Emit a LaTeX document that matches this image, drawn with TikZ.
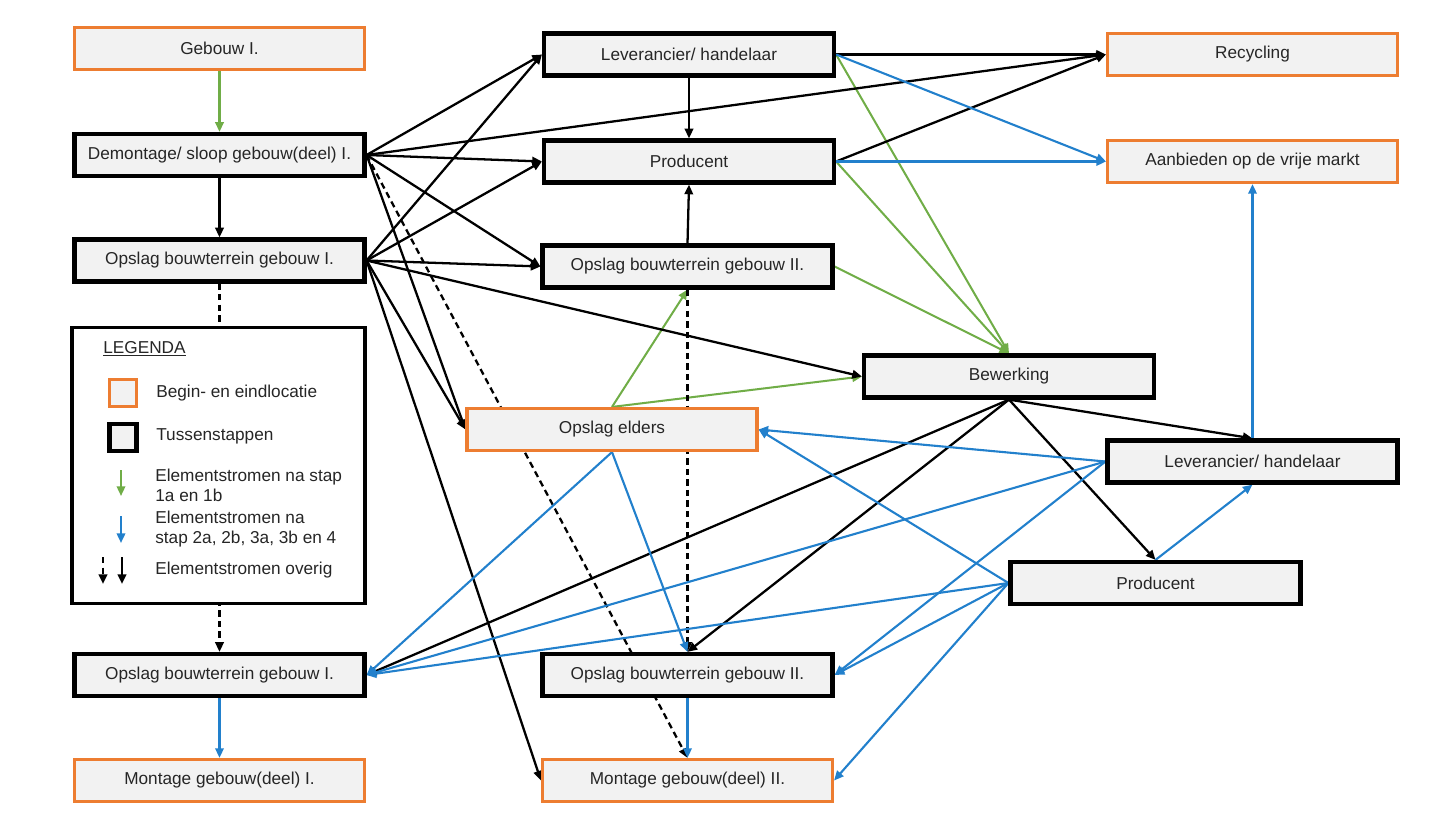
\documentclass[tikz,border=0pt]{standalone}
\usepackage{fontspec}
\setmainfont{Liberation Sans}
\usetikzlibrary{arrows.meta,backgrounds}
\definecolor{orng}{HTML}{ED7D31}
\definecolor{grn}{HTML}{70AD47}
\definecolor{blu}{HTML}{2280CC}
\definecolor{boxfill}{HTML}{F2F2F2}
\definecolor{txt}{HTML}{262626}
\begin{document}
\begin{tikzpicture}[x=0.02cm,y=-0.02cm,
 box/.style={fill=boxfill, minimum width=5.8cm, minimum height=0.84cm, inner sep=0pt, text=txt, font=\fontsize{9.8}{11}\selectfont},
 endbox/.style={box, draw=orng, line width=1.8pt},
 midbox/.style={box, draw=black, line width=2.4pt},
 flow/.style={line width=1.3pt, -{Triangle[length=5.5pt,width=4.8pt]}},
 blk/.style={flow, draw=black},
 blkd/.style={flow, draw=black, dash pattern=on 3.6pt off 2.4pt},
 grnf/.style={flow, draw=grn, line width=1.15pt},
 bluf/.style={flow, draw=blu, line width=1.2pt},
 legtxt/.style={anchor=west, align=left, inner sep=0pt, text=txt, font=\fontsize{9.8}{11.3}\selectfont},
]
\useasboundingbox (0,0) rectangle (1439,817);

% left column
\node[endbox] (G1)  at (219.5,48.5)  {Gebouw I.};
\node[midbox] (D1)  at (219.5,155)   {Demontage/ sloop gebouw(deel) I.};
\node[midbox] (O1)  at (219.5,260.5) {Opslag bouwterrein gebouw I.};
\node[midbox] (O1b) at (219.5,675)   {Opslag bouwterrein gebouw I.};
\node[endbox] (M1)  at (219.5,780.5) {Montage gebouw(deel) I.};
% middle column
\node[midbox] (L1)  at (689,54.5)    {Leverancier/ handelaar};
\node[midbox] (P1)  at (689,161.5)   {Producent};
\node[midbox] (O2)  at (687.5,266.5) {Opslag bouwterrein gebouw II.};
\node[endbox] (OE)  at (612,429.5)   {Opslag elders};
\node[midbox] (O2b) at (687.5,675)   {Opslag bouwterrein gebouw II.};
\node[endbox] (M2)  at (687.5,780.5) {Montage gebouw(deel) II.};
% right part
\node[midbox] (B)   at (1009,376.5)  {Bewerking};
\node[endbox] (R)   at (1252.5,54.5) {Recycling};
\node[endbox] (A)   at (1252.5,161.5){Aanbieden op de vrije markt};
\node[midbox] (L2)  at (1252.5,461.5){Leverancier/ handelaar};
\node[midbox] (P2)  at (1155.5,583)  {Producent};

% legend
\node[draw=black, line width=1.8pt, fill=white, minimum width=5.86cm, minimum height=5.52cm, inner sep=0pt] (LEG) at (218.5,465.5) {};
\node[legtxt] (legt) at (103,349) {\underline{LEGENDA}};
\node[fill=boxfill, draw=orng, line width=1.8pt, minimum size=0.54cm, inner sep=0pt] (lego) at (123,393) {};
\node[legtxt] (legot) at (156,393) {Begin- en eindlocatie};
\node[fill=boxfill, draw=black, line width=2.4pt, minimum size=0.54cm, inner sep=0pt] (legb) at (123,437.5) {};
\node[legtxt] (legbt) at (156,436) {Tussenstappen};
\node[legtxt] (leggt) at (155,485) {Elementstromen na stap\\1a en 1b};
\node[legtxt] (leglt) at (155,529) {Elementstromen na\\stap 2a, 2b, 3a, 3b en 4};
\node[legtxt] (legkt) at (155,570) {Elementstromen overig};
\coordinate (lg1) at (121,470); \coordinate (lg2) at (121,496);
\coordinate (lb1) at (121,516); \coordinate (lb2) at (121,543);
\coordinate (ld1) at (103,557); \coordinate (ld2) at (103,584);
\coordinate (ls1) at (122,557); \coordinate (ls2) at (122,584);
\draw[grnf] (lg1) -- (lg2);
\draw[bluf] (lb1) -- (lb2);
\draw[blkd] (ld1) -- (ld2);
\draw[blk] (ls1) -- (ls2);

\begin{pgfonlayer}{background}
% green
\draw[grnf] (G1.south) -- (D1.north);
\draw[grnf] (L1.east) -- (B.north);
\draw[grnf] (P1.east) -- (B.north);
\draw[grnf] (O2.east) -- (B.north);
\draw[grnf] (OE.north) -- (O2.south);
\draw[grnf] (OE.north) -- (B.west);
% black solid
\draw[blk] (D1.south) -- (O1.north);
\draw[blk] (D1.east) -- (L1.west);
\draw[blk] (D1.east) -- (R.west);
\draw[blk] (D1.east) -- (P1.west);
\draw[blk] (D1.east) -- (O2.west);
\draw[blk] (D1.east) -- (OE.west);
\draw[blk] (O1.east) -- (L1.west);
\draw[blk] (O1.east) -- (P1.west);
\draw[blk] (O1.east) -- (O2.west);
\draw[blk] (O1.east) -- (B.west);
\draw[blk] (O1.east) -- (OE.west);
\draw[blk] (O1.east) -- (M2.west);
\draw[blk] (L1.south) -- (P1.north);
\draw[blk] (O2.north) -- (P1.south);
\draw[blk] (L1.east) -- (R.west);
\draw[blk] (P1.east) -- (R.west);
\draw[blk] (B.south) -- (L2.north);
\draw[blk] (B.south) -- (P2.north);
\draw[blk] (B.south) -- (O1b.east);
\draw[blk] (B.south) -- (O2b.north);
% black dashed
\draw[blkd] (O1.south) -- (O1b.north);
\draw[blkd] (O2.south) -- (O2b.north);
\draw[blkd] (D1.east) -- (M2.north);
% blue
\draw[bluf] (L1.east) -- (A.west);
\draw[bluf] (P1.east) -- (A.west);
\draw[bluf] (L2.north) -- (A.south);
\draw[bluf] (P2.north) -- (L2.south);
\draw[bluf] (L2.west) -- (OE.east);
\draw[bluf] (P2.west) -- (OE.east);
\draw[bluf] (L2.west) -- (O1b.east);
\draw[bluf] (P2.west) -- (O1b.east);
\draw[bluf] (OE.south) -- (O1b.east);
\draw[bluf] (OE.south) -- (O2b.north);
\draw[bluf] (L2.west) -- (O2b.east);
\draw[bluf] (P2.west) -- (O2b.east);
\draw[bluf] (P2.west) -- (M2.east);
\draw[bluf] (O1b.south) -- (M1.north);
\draw[bluf] (O2b.south) -- (M2.north);
\end{pgfonlayer}
\end{tikzpicture}
\end{document}
